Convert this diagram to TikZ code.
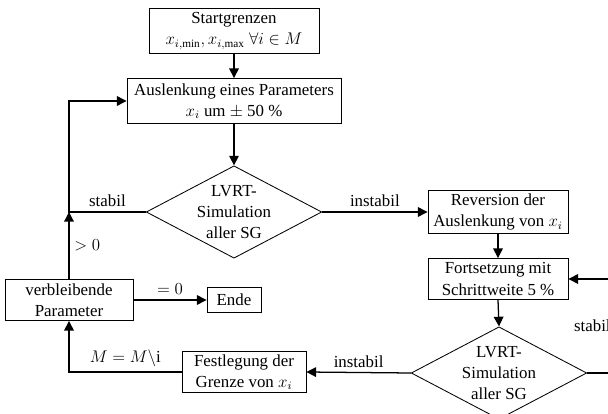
\documentclass[tikz,border=0pt]{standalone}
\usepackage{fontspec}
\setmainfont{Liberation Serif}
\usepackage{tikz}
\usetikzlibrary{arrows.meta,shapes.geometric}
\tikzstyle{box} = [draw, line width=0.6pt, align=center, inner sep=1pt, font=\fontsize{12}{15}\selectfont]
\tikzstyle{decision} = [draw, diamond, shape aspect=1.9, line width=0.6pt, align=center, inner sep=0pt, font=\fontsize{12}{15}\selectfont]
\tikzstyle{arrow} = [draw, line width=0.9pt, color=black, -{Triangle[length=2.4mm,width=2.4mm]}]
\tikzstyle{lbl} = [font=\fontsize{12}{15}\selectfont]

\begin{document}
\begin{tikzpicture}[x=0.025cm,y=-0.025cm]

\useasboundingbox (0,0) rectangle (608,414);
\clip (0,0) rectangle (608,414);

%%% %%%
% Boxes
%%% %%%

\node[box,minimum width=4.25cm,minimum height=1.125cm] at (234,31) (Start) {Startgrenzen\\$x_{i,\min}, x_{i,\max}\ \forall i \in M$};

\node[box,minimum width=5.35cm,minimum height=1.125cm] at (234,101) (Ausl) {Auslenkung eines Parameters\\$x_i$ um $\pm$ 50~\%};

\node[decision,minimum width=4.25cm,minimum height=2.25cm] at (234,212) (Sim1) {LVRT-\\Simulation\\aller SG};

\node[box,minimum width=3.5cm,minimum height=1.075cm] at (498,212) (Rev) {Reversion der\\Auslenkung von $x_i$};

\node[box,minimum width=3.5cm,minimum height=1.025cm] at (498,279) (Fort) {Fortsetzung mit\\Schrittweite 5~\%};

\node[decision,minimum width=4.2cm,minimum height=2.25cm] at (499,373) (Sim2) {LVRT-\\Simulation\\aller SG};

\node[box,minimum width=3.1cm,minimum height=1.025cm] at (244,372) (Fest) {Festlegung der\\Grenze von $x_i$};

\node[box,minimum width=3.2cm,minimum height=1.025cm] at (69,300) (Verb) {verbleibende\\Parameter};

\node[box,minimum width=1.35cm,minimum height=0.625cm] at (234,300) (Ende) {Ende};

\coordinate (J1) at (69,212);
\coordinate (R) at (616,373);


%%%
% Arrows
%%%

\draw [arrow] (Start.south) to (Ausl.north);
\draw [arrow] (Ausl.south) to (Sim1.north);
\draw [arrow] (Sim1.east) -- node[lbl,above]{instabil} (Rev.west);
\draw [arrow] (Rev.south) to (Fort.north);
\draw [arrow] (Fort.south) to (Sim2.north);
\draw [arrow] (Sim2.east) -- (R) |- node[lbl,pos=0.25,left]{stabil} (Fort.east);
\draw [arrow] (Sim2.west) -- node[lbl,above]{instabil} (Fest.east);
\draw [arrow] (Fest.west) -| node[lbl,pos=0.25,above]{$M = M\backslash\mathrm{i}$} (Verb.south);
\draw [arrow] (Verb.east) -- node[lbl,above]{$= 0$} (Ende.west);
\draw [arrow] (Verb.north) -- node[lbl,right]{$> 0$} (J1);
\draw [arrow] (Sim1.west) -- node[lbl,above]{stabil} (J1) |- (Ausl.west);

\end{tikzpicture}
\end{document}
